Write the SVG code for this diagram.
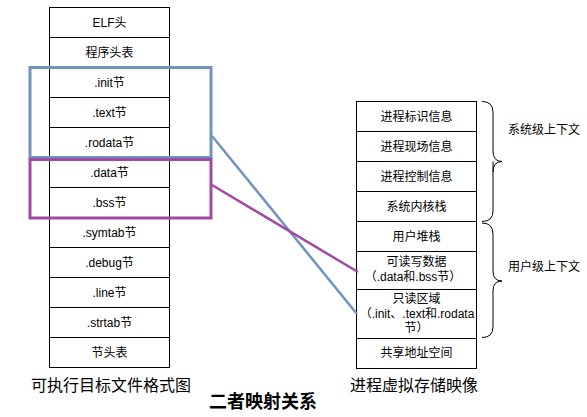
<svg xmlns="http://www.w3.org/2000/svg" width="587" height="417" viewBox="0 0 587 417">
<style>
text{font-family:"Liberation Sans","Noto Sans CJK SC",sans-serif;fill:#000}
.c{font-size:12px;text-anchor:middle;dominant-baseline:central}
.cell{fill:#fff;stroke:#000;stroke-width:1}
.cap{font-size:16px;text-anchor:middle}
.brace{fill:none;stroke:#000;stroke-width:1}
</style>
<rect width="587" height="417" fill="#fff"/>
<g id="elf">
<rect class="cell" x="49.5" y="7.5" width="120" height="30"/><text class="c" x="109.5" y="22.5">ELF头</text>
<rect class="cell" x="49.5" y="37.5" width="120" height="30"/><text class="c" x="109.5" y="52.5">程序头表</text>
<rect class="cell" x="49.5" y="67.5" width="120" height="30"/><text class="c" x="109.5" y="82.5">.init节</text>
<rect class="cell" x="49.5" y="97.5" width="120" height="30"/><text class="c" x="109.5" y="112.5">.text节</text>
<rect class="cell" x="49.5" y="127.5" width="120" height="30"/><text class="c" x="109.5" y="142.5">.rodata节</text>
<rect class="cell" x="49.5" y="157.5" width="120" height="30"/><text class="c" x="109.5" y="172.5">.data节</text>
<rect class="cell" x="49.5" y="187.5" width="120" height="30"/><text class="c" x="109.5" y="202.5">.bss节</text>
<rect class="cell" x="49.5" y="217.5" width="120" height="30"/><text class="c" x="109.5" y="232.5">.symtab节</text>
<rect class="cell" x="49.5" y="247.5" width="120" height="30"/><text class="c" x="109.5" y="262.5">.debug节</text>
<rect class="cell" x="49.5" y="277.5" width="120" height="30"/><text class="c" x="109.5" y="292.5">.line节</text>
<rect class="cell" x="49.5" y="307.5" width="120" height="30"/><text class="c" x="109.5" y="322.5">.strtab节</text>
<rect class="cell" x="49.5" y="337.5" width="120" height="30"/><text class="c" x="109.5" y="352.5">节头表</text>
</g>
<g id="proc">
<rect class="cell" x="356.5" y="101.5" width="120" height="30"/><text class="c" x="416.5" y="116.5">进程标识信息</text>
<rect class="cell" x="356.5" y="131.5" width="120" height="30"/><text class="c" x="416.5" y="146.5">进程现场信息</text>
<rect class="cell" x="356.5" y="161.5" width="120" height="30"/><text class="c" x="416.5" y="176.5">进程控制信息</text>
<rect class="cell" x="356.5" y="191.5" width="120" height="30"/><text class="c" x="416.5" y="206.5">系统内核栈</text>
<rect class="cell" x="356.5" y="221.5" width="120" height="30"/><text class="c" x="416.5" y="236.5">用户堆栈</text>
<rect class="cell" x="356.5" y="251.5" width="120" height="38"/><text class="c" x="416.5" y="261.5">可读写数据</text><text class="c" x="413" y="276.5">（.data和.bss节）</text>
<rect class="cell" x="356.5" y="289.5" width="120" height="49"/><text class="c" x="416.5" y="298.5">只读区域</text><text class="c" x="417" y="313.5">（.init、.text和.rodata</text><text class="c" x="416.5" y="327.5">节）</text>
<rect class="cell" x="356.5" y="338.5" width="120" height="30"/><text class="c" x="416.5" y="352.5">共享地址空间</text>
</g>
<g id="highlights">
<rect x="30" y="67.5" width="181" height="90" fill="none" stroke="#7093c0" stroke-width="3"/>
<rect x="30" y="159.5" width="181" height="58.5" fill="none" stroke="#a04aa3" stroke-width="3"/>
</g>
<g id="connectors">
<line x1="212" y1="136" x2="357" y2="314" stroke="#7093c0" stroke-width="2.5"/>
<line x1="212" y1="185" x2="358" y2="272" stroke="#a04aa3" stroke-width="2.5"/>
</g>
<g id="braces">
<path class="brace" d="M482,101.5 Q493,101.5 493,112 L493,151 Q493,161.5 502,161.5 M493,161.5 Q493,172 493,172 L493,211 Q493,221.5 482,221.5 M502,161.5 Q493,161.5 493,172"/>
<path class="brace" d="M482,223 Q493,223 493,234 L493,271 Q493,281 502,281 Q493,281 493,291 L493,327 Q493,337.5 482,337.5"/>
<text x="508" y="134" font-size="12">系统级上下文</text>
<text x="508" y="271" font-size="12">用户级上下文</text>
</g>
<g id="captions">
<text class="cap" x="111" y="391">可执行目标文件格式图</text>
<text class="cap" x="414" y="391">进程虚拟存储映像</text>
<text x="263" y="408" font-size="18" font-weight="bold" text-anchor="middle">二者映射关系</text>
</g>
</svg>
